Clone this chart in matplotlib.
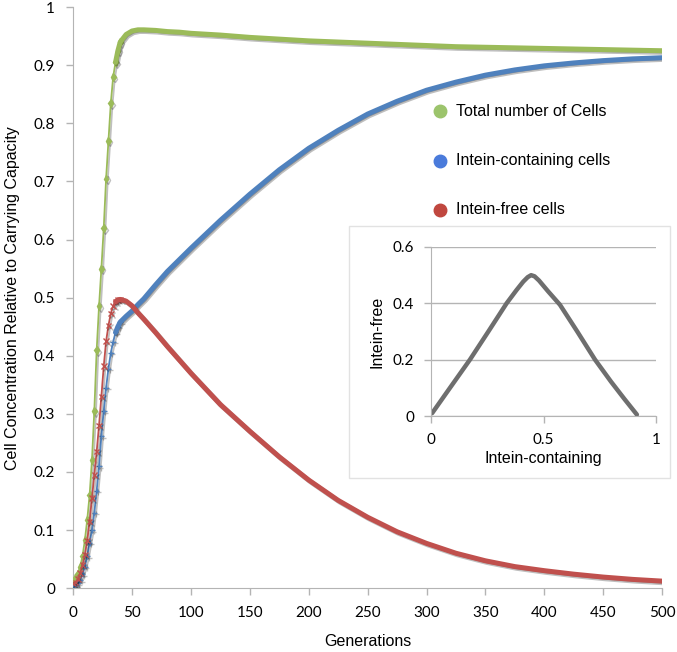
import matplotlib
matplotlib.use("Agg")
import matplotlib.pyplot as plt
import matplotlib.patheffects as pe
from matplotlib.lines import Line2D
from matplotlib.patches import Rectangle

gens = [0, 2, 4, 6, 8, 10, 12, 14, 16, 18, 20, 22, 24, 26, 28, 30, 32, 34, 36, 38, 40,
        45, 50, 55, 60, 70, 80, 90, 100, 125, 150, 175, 200, 225, 250, 275, 300,
        325, 350, 375, 400, 425, 450, 475, 500]

total = [0.012, 0.017, 0.025, 0.037, 0.055, 0.083, 0.118, 0.16, 0.22, 0.305, 0.41,
         0.485, 0.55, 0.62, 0.705, 0.77, 0.835, 0.88, 0.905, 0.925, 0.94,
         0.953, 0.959, 0.961, 0.961, 0.96, 0.958, 0.957, 0.955, 0.952, 0.948, 0.945,
         0.942, 0.94, 0.938, 0.936, 0.934, 0.932, 0.931, 0.93, 0.929, 0.928, 0.927,
         0.926, 0.925]

intein = [0.004, 0.005, 0.008, 0.014, 0.024, 0.037, 0.055, 0.078, 0.1, 0.13, 0.168,
          0.21, 0.262, 0.305, 0.345, 0.378, 0.405, 0.424, 0.44, 0.45, 0.458,
          0.468, 0.477, 0.488, 0.498, 0.522, 0.545, 0.565, 0.585, 0.633, 0.678, 0.72,
          0.757, 0.788, 0.816, 0.838, 0.857, 0.871, 0.883, 0.892, 0.899, 0.904, 0.908,
          0.911, 0.913]

free = [0.008, 0.01, 0.016, 0.026, 0.04, 0.058, 0.082, 0.115, 0.155, 0.195, 0.235,
        0.28, 0.33, 0.382, 0.425, 0.452, 0.473, 0.486, 0.493, 0.496, 0.497,
        0.494, 0.486, 0.474, 0.463, 0.44, 0.416, 0.393, 0.37, 0.316, 0.27, 0.226,
        0.186, 0.151, 0.122, 0.097, 0.077, 0.06, 0.047, 0.037, 0.03, 0.024, 0.019,
        0.015, 0.012]

# inset: intein-free vs intein-containing
inset_x = [0.005, 0.08, 0.173, 0.255, 0.336, 0.38, 0.41, 0.43, 0.445, 0.46, 0.48,
           0.52, 0.573, 0.65, 0.729, 0.8, 0.86, 0.915]
inset_y = [0.01, 0.095, 0.2, 0.3, 0.4, 0.447, 0.477, 0.493, 0.5, 0.496, 0.481,
           0.443, 0.395, 0.3, 0.2, 0.122, 0.06, 0.005]

labels = ["Total number of Cells", "Intein-containing cells", "Intein-free cells"]
colors = ["#9BBB59", "#4F81BD", "#C0504D"]
legend_colors = ["#9CC46C", "#4A7BDB", "#C0473F"]

tick_font = "Lato"
label_font = "Liberation Sans"
grey = "#b4b4b4"

fig = plt.figure(figsize=(6.77, 6.52), dpi=100)
ax = fig.add_axes([0.108, 0.098, 0.870, 0.891])

shadow = [pe.SimpleLineShadow(offset=(1.2, -1.2), alpha=0.25), pe.Normal()]
early = sum(g <= 40 for g in gens)
for series, col, mk in zip([total, intein, free], colors, ["d", "+", "x"]):
    ax.plot(gens, series, color=col, lw=1.3, marker=mk, ms=4, mew=1,
            markevery=slice(0, early), path_effects=shadow, zorder=3)
    ax.plot(gens[early - 3:], series[early - 3:], color=col, lw=3.6,
            path_effects=shadow, solid_capstyle="round", zorder=3)

ax.set_xlim(0, 500)
ax.set_ylim(0, 1)
ax.set_xticks(range(0, 501, 50))
ax.set_yticks([i / 10 for i in range(11)])
ax.set_yticklabels(["0", "0.1", "0.2", "0.3", "0.4", "0.5", "0.6", "0.7", "0.8", "0.9", "1"])
for s in ["top", "right"]:
    ax.spines[s].set_visible(False)
for s in ["left", "bottom"]:
    ax.spines[s].set_color(grey)
ax.tick_params(colors=grey, length=5, width=1, labelcolor="black", labelsize=11, pad=8)
for t in ax.get_xticklabels() + ax.get_yticklabels():
    t.set_fontfamily(tick_font)
ax.set_xlabel("Generations", fontfamily=label_font, fontsize=11.5, labelpad=10)
ax.set_ylabel("Cell Concentration Relative to Carrying Capacity",
              fontfamily=label_font, fontsize=11.5, labelpad=10)

# legend drawn by hand
for i, (lab, col) in enumerate(zip(labels, legend_colors)):
    y = 1 - (111 + i * 49.5) / 652
    fig.add_artist(Line2D([440 / 677], [y], marker="o", color=col, ms=9,
                          transform=fig.transFigure))
    fig.text(456 / 677, y, lab, va="center", ha="left", fontfamily=label_font,
             fontsize=11.5)

# inset frame
fig.add_artist(Rectangle((349 / 677, 1 - 478 / 652), 321 / 677, 252 / 652,
                         transform=fig.transFigure, facecolor="white",
                         edgecolor="#e2e2e2", lw=1, zorder=4))

ins = fig.add_axes([431 / 677, 1 - 416 / 652, 225 / 677, 169 / 652], zorder=5)
ins.plot(inset_x, inset_y, color="#6e6e6e", lw=3.2, solid_capstyle="round",
         solid_joinstyle="round")
ins.set_xlim(0, 1)
ins.set_ylim(0, 0.6)
ins.set_xticks([0, 0.5, 1])
ins.set_xticklabels(["0", "0.5", "1"])
ins.set_yticks([0, 0.2, 0.4, 0.6])
ins.set_yticklabels(["0", "0.2", "0.4", "0.6"])
ins.grid(axis="y", color=grey, lw=1)
ins.set_axisbelow(True)
for s in ["top", "right"]:
    ins.spines[s].set_visible(False)
for s in ["left", "bottom"]:
    ins.spines[s].set_color(grey)
ins.tick_params(colors=grey, length=5, width=1, labelcolor="black", labelsize=11, pad=7)
for t in ins.get_xticklabels() + ins.get_yticklabels():
    t.set_fontfamily(tick_font)
ins.set_xlabel("Intein-containing", fontfamily=label_font, fontsize=11.5, labelpad=3)
ins.set_ylabel("Intein-free", fontfamily=label_font, fontsize=11.5, labelpad=6)

fig.savefig("out.png", dpi=100)
